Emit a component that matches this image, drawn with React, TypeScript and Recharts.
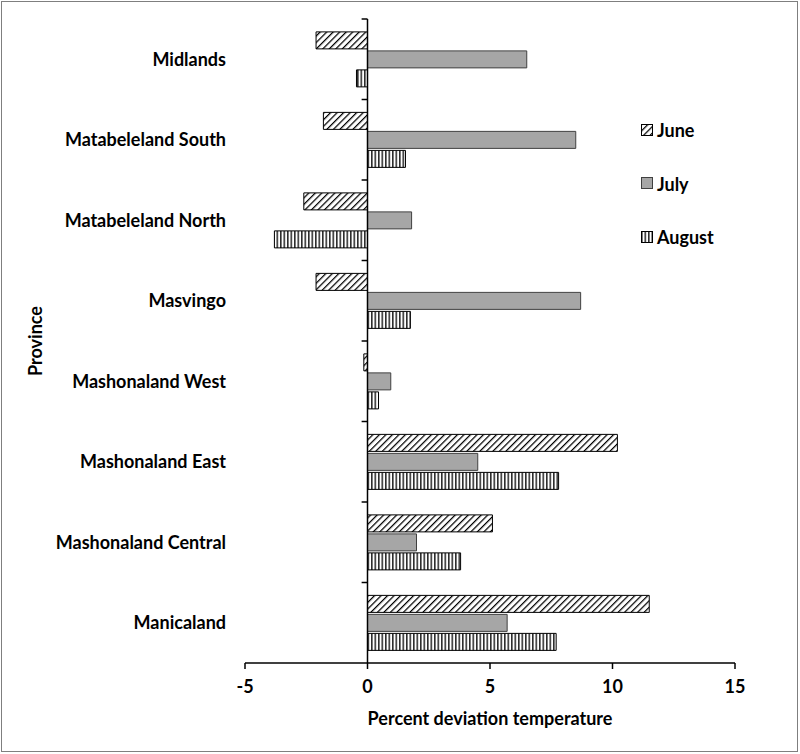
import React from 'react';
import { BarChart, Bar, XAxis, YAxis, ReferenceLine, Legend, Label } from 'recharts';

const provinces = [
  'Midlands',
  'Matabeleland South',
  'Matabeleland North',
  'Masvingo',
  'Mashonaland West',
  'Mashonaland East',
  'Mashonaland Central',
  'Manicaland',
];
const june = [-2.1, -1.8, -2.6, -2.1, -0.15, 10.2, 5.1, 11.5];
const july = [6.5, 8.5, 1.8, 8.7, 0.95, 4.5, 2.0, 5.7];
const august = [-0.45, 1.55, -3.8, 1.75, 0.45, 7.8, 3.8, 7.7];
const seriesNames = ['June', 'July', 'August'];
const xTicks = [-5, 0, 5, 10, 15];

const data = provinces.map((p, i) => ({ province: p, June: june[i], July: july[i], August: august[i] }));

const FONT = 'Lato, Carlito, Calibri, sans-serif';
const FS = 18;

const Patterns = ({ suffix = '' }: { suffix?: string }) => (
  <defs>
    <pattern id={'pJune' + suffix} patternUnits="userSpaceOnUse" width="4.6" height="4.6" patternTransform="rotate(45)">
      <rect width="4.6" height="4.6" fill="#fff" />
      <line x1="0" y1="0" x2="0" y2="4.6" stroke="#000" strokeWidth="2.5" />
    </pattern>
    <pattern id={'pAug' + suffix} patternUnits="userSpaceOnUse" width="3.5" height="10">
      <rect width="3.5" height="10" fill="#fff" />
      <line x1="0.8" y1="0" x2="0.8" y2="10" stroke="#000" strokeWidth="1.3" />
    </pattern>
  </defs>
);

const swatchFill = (name: string) =>
  name === 'June' ? 'url(#pJuneL)' : name === 'August' ? 'url(#pAugL)' : '#a6a6a6';

const LegendContent = (props: any) => {
  const payload = [...(props.payload || [])].sort(
    (a: any, b: any) => seriesNames.indexOf(a.value) - seriesNames.indexOf(b.value)
  );
  return (
    <div style={{ fontFamily: FONT, fontWeight: 700, fontSize: FS, color: '#000' }}>
      {payload.map((e: any, i: number) => (
        <div
          key={i}
          style={{ display: 'flex', alignItems: 'center', height: 22, marginBottom: i < payload.length - 1 ? 31.5 : 0 }}
        >
          <svg width={14} height={13} style={{ marginRight: 2 }}>
            <Patterns suffix="L" />
            <rect
              x={0.5}
              y={0.5}
              width={11}
              height={11}
              fill={swatchFill(e.value)}
              stroke={e.value === 'July' ? '#404040' : '#000'}
              strokeWidth={1}
            />
          </svg>
          <span>{e.value}</span>
        </div>
      ))}
    </div>
  );
};

export default function App() {
  return (
    <div style={{ position: 'absolute', left: 0, top: 0, width: 800, height: 754, background: '#fff' }}>
      <div
        style={{
          position: 'absolute',
          left: 1,
          top: 1,
          width: 795,
          height: 749,
          border: '1.5px solid #7f7f7f',
          pointerEvents: 'none',
          zIndex: 2,
        }}
      />
      <BarChart
        width={800}
        height={754}
        data={data}
        layout="vertical"
        margin={{ top: 19, right: 65, left: 0, bottom: 0 }}
        barCategoryGap="16%"
        barGap={2}
      >
        <Patterns />
        <XAxis
          type="number"
          domain={[-5, 15]}
          ticks={xTicks}
          height={91}
          axisLine={{ stroke: '#000', strokeWidth: 1.5 }}
          tickLine={{ stroke: '#000', strokeWidth: 1.5 }}
          tickSize={6}
          tickMargin={11}
          tick={{ fill: '#000', fontFamily: FONT, fontWeight: 700, fontSize: FS }}
        >
          <Label
            content={(p: any) => {
              const vb = p.viewBox || {};
              return (
                <text
                  x={vb.x + vb.width / 2}
                  y={vb.y + 55}
                  textAnchor="middle"
                  dominantBaseline="central"
                  fill="#000"
                  fontFamily={FONT}
                  fontWeight={700}
                  fontSize={FS}
                >
                  Percent deviation temperature
                </text>
              );
            }}
          />
        </XAxis>
        <YAxis
          type="category"
          dataKey="province"
          width={245}
          axisLine={false}
          tickLine={false}
          tickSize={0}
          tickMargin={19}
          interval={0}
          tick={{ fill: '#000', fontFamily: FONT, fontWeight: 700, fontSize: FS }}
        >
          <Label
            content={(p: any) => {
              const vb = p.viewBox || {};
              const cx = 35;
              const cy = vb.y + vb.height / 2;
              return (
                <text
                  x={cx}
                  y={cy}
                  transform={`rotate(-90 ${cx} ${cy})`}
                  textAnchor="middle"
                  dominantBaseline="central"
                  fill="#000"
                  fontFamily={FONT}
                  fontWeight={700}
                  fontSize={FS}
                >
                  Province
                </text>
              );
            }}
          />
        </YAxis>
        <Legend
          layout="vertical"
          verticalAlign="middle"
          align="center"
          content={<LegendContent />}
          wrapperStyle={{ left: 641, top: 119, width: 120 }}
        />
        <Bar dataKey="June" fill="url(#pJune)" stroke="#000" strokeWidth={1} isAnimationActive={false} />
        <Bar dataKey="July" fill="#a6a6a6" stroke="#404040" strokeWidth={1} isAnimationActive={false} />
        <Bar dataKey="August" fill="url(#pAug)" stroke="#000" strokeWidth={1} isAnimationActive={false} />
        <ReferenceLine x={0} stroke="#000" strokeWidth={1.5} />
        {provinces.map((p) => (
          <ReferenceLine
            key={p}
            position="start"
            ifOverflow="visible"
            segment={[
              { x: -0.24, y: p },
              { x: 0, y: p },
            ]}
            stroke="#000"
            strokeWidth={1.5}
          />
        ))}
      </BarChart>
    </div>
  );
}
